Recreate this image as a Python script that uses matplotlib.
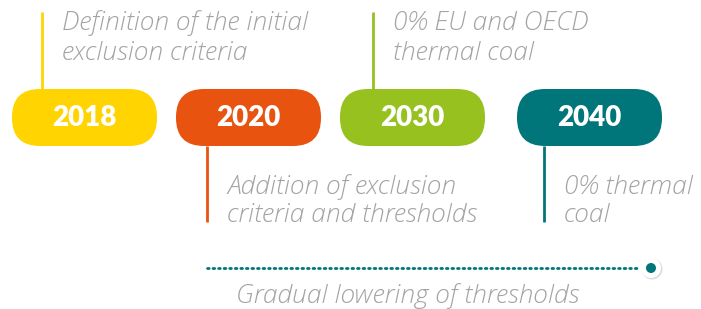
import matplotlib
matplotlib.use('Agg')
import matplotlib.pyplot as plt
from matplotlib.patches import FancyBboxPatch, Circle

# data
years = ['2018', '2020', '2030', '2040']
colors = ['#FFD400', '#E8530F', '#96C11F', '#00767A']
descriptions = [
    'Definition of the initial\nexclusion criteria',
    'Addition of exclusion\ncriteria and thresholds',
    '0% EU and OECD\nthermal coal',
    '0% thermal\ncoal',
]
text_above = [True, False, True, False]
bottom_label = 'Gradual lowering of thresholds'

# layout (pixels)
W, H = 701, 309
pill_left = [12, 176, 340, 517]
pill_w, pill_h = 145, 57
pill_top = 89
stem_x = [42, 207, 373, 544]
gray = '#A3A3A3'
teal = colors[3]
txt = dict(color=gray, fontsize=19, family='Open Sans', style='italic',
           fontweight='light')

fig = plt.figure(figsize=(W / 100, H / 100), dpi=100)
ax = fig.add_axes([0, 0, 1, 1])
ax.set_xlim(0, W)
ax.set_ylim(H, 0)
ax.axis('off')

for i, year in enumerate(years):
    x0 = pill_left[i]
    ax.add_patch(FancyBboxPatch((x0, pill_top), pill_w, pill_h,
                                boxstyle='round,pad=0,rounding_size=28',
                                fc=colors[i], ec='none', zorder=2))
    ax.text(x0 + pill_w / 2, pill_top + pill_h / 2 + 1, year, color='white',
            fontsize=20, fontweight='heavy', family='Lato',
            ha='center', va='center', zorder=3)
    sx = stem_x[i]
    if text_above[i]:
        ax.plot([sx, sx], [12, pill_top], color=colors[i], lw=2, zorder=1,
                solid_capstyle='butt')
        ty = [23, 53]
    else:
        ax.plot([sx, sx], [pill_top + pill_h, 222], color=colors[i], lw=2,
                zorder=1, solid_capstyle='butt')
        ty = [187, 215]
    for line, y in zip(descriptions[i].split('\n'), ty):
        ax.text(sx + 20, y, line, ha='left', va='center', **txt)

# dotted progression line
ax.plot([207, 640], [268, 268], color=teal, lw=2, ls=(0, (0.6, 1.4)),
        dash_capstyle='round')
ax.add_patch(Circle((652, 269), 10.5, fc='#dddddd', ec='none', zorder=3))
ax.add_patch(Circle((651, 268), 10, fc='white', ec='none', zorder=4))
ax.add_patch(Circle((651, 268), 5, fc=teal, ec='none', zorder=5))
ax.text(408, 296, bottom_label, ha='center', va='center', **txt)

fig.savefig('out.png', dpi=100)
